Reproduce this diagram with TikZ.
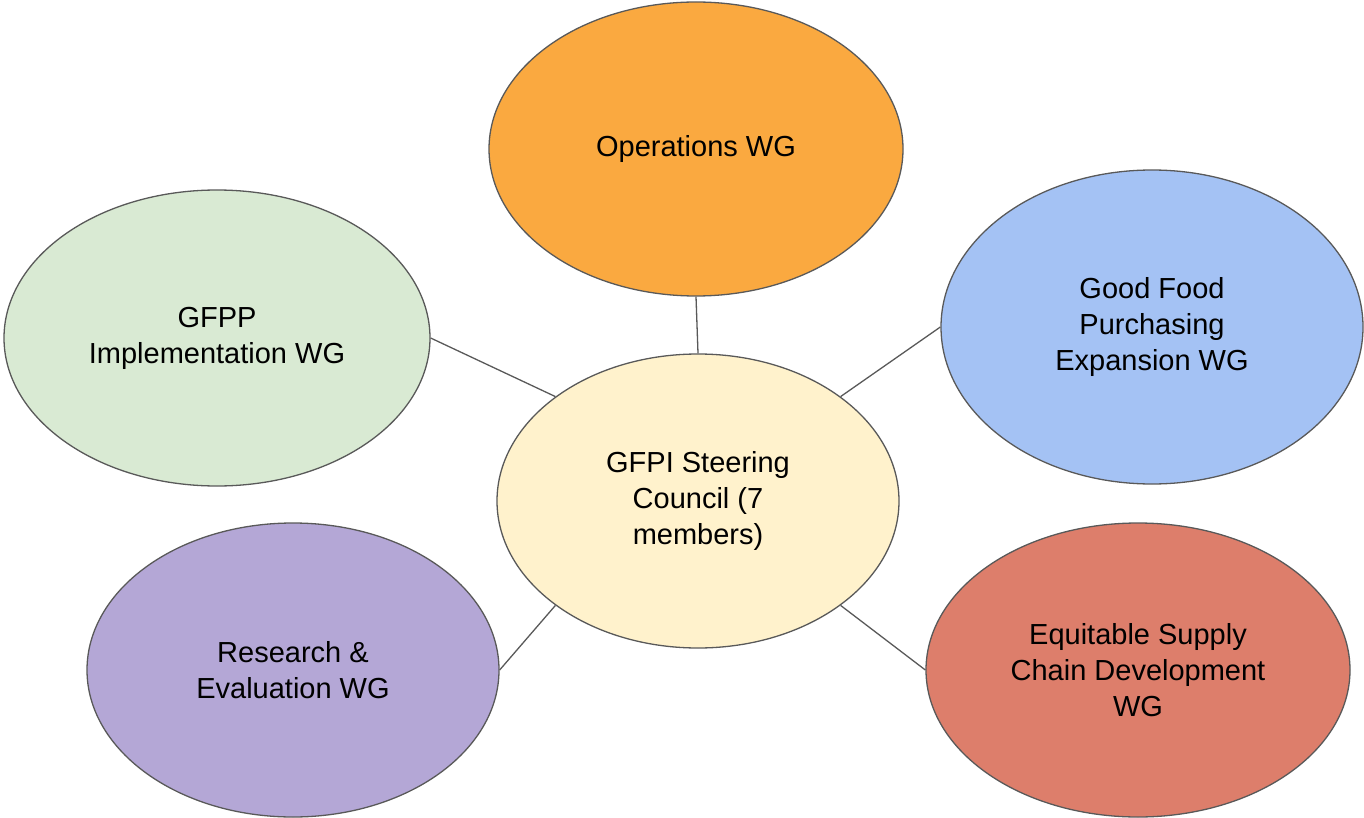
\documentclass[tikz,border=0pt]{standalone}
\usepackage{fontspec}
\setmainfont{Liberation Sans}
\usetikzlibrary{shapes.geometric}

\definecolor{opsorange}{RGB}{250,169,64}
\definecolor{implgreen}{RGB}{217,234,211}
\definecolor{gfeblue}{RGB}{164,194,244}
\definecolor{councilyellow}{RGB}{255,242,204}
\definecolor{respurple}{RGB}{180,167,214}
\definecolor{supplyred}{RGB}{221,126,107}
\definecolor{edgegray}{RGB}{89,89,89}

\begin{document}
\begin{tikzpicture}
[
    x=0.5pt, y=-0.5pt,
    wg/.style={ellipse, draw=edgegray, line width=0.65pt, inner sep=0pt,
        align=center, font=\fontsize{14.5}{18}\selectfont},
    link/.style={draw=edgegray, line width=0.65pt},
]
\useasboundingbox (0,0) rectangle (1364,818);

\node [wg, fill=opsorange, minimum width=207pt, minimum height=147pt]
    (ops) at (696,149) {Operations WG};
\node [wg, fill=implgreen, minimum width=213pt, minimum height=148pt]
    (impl) at (217,338) {GFPP\\Implementation WG};
\node [wg, fill=gfeblue, minimum width=211pt, minimum height=157pt]
    (gfe) at (1152,327) {Good Food\\Purchasing\\Expansion WG};
\node [wg, fill=councilyellow, minimum width=201pt, minimum height=147pt]
    (council) at (698,501) {GFPI Steering\\Council (7\\members)};
\node [wg, fill=respurple, minimum width=206pt, minimum height=147pt]
    (research) at (293,670) {Research \&\\Evaluation WG};
\node [wg, fill=supplyred, minimum width=212pt, minimum height=147pt]
    (supply) at (1138,670) {Equitable Supply\\Chain Development\\WG};

\draw [link] (ops.south) -- (council.north);
\draw [link] (impl.east) -- (council.north west);
\draw [link] (gfe.west) -- (council.north east);
\draw [link] (research.east) -- (council.south west);
\draw [link] (supply.west) -- (council.south east);
\end{tikzpicture}
\end{document}
